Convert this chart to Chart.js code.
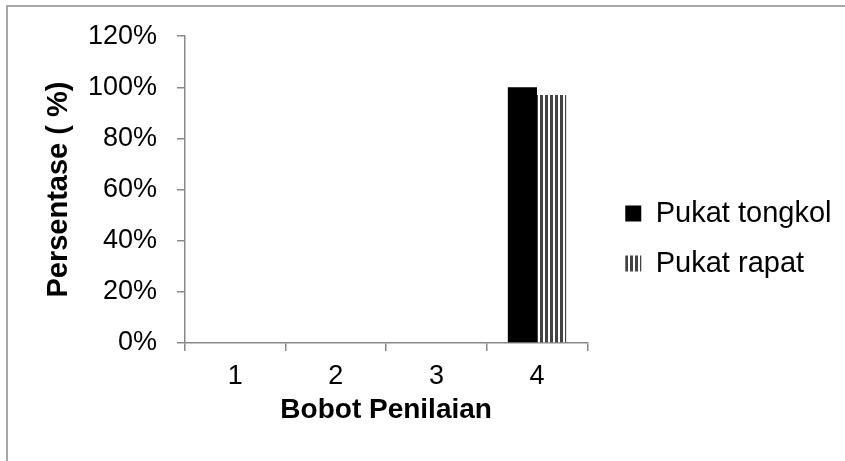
<!DOCTYPE html>
<html>
<head>
<meta charset="utf-8">
<script src="https://cdn.jsdelivr.net/npm/chart.js@4/dist/chart.umd.min.js"></script>
<style>
  html, body { margin: 0; padding: 0; background: #fff; }
  #wrap { width: 845px; height: 461px; position: relative; }
</style>
</head>
<body>
<div id="wrap"><canvas id="c" width="845" height="461"></canvas></div>
<script>
// Score weights on the x axis and the share of each net type per weight
const categories = ['1', '2', '3', '4'];
const pukatTongkol = [0, 0, 0, 100];
const pukatRapat = [0, 0, 0, 97];
const seriesNames = ['Pukat tongkol', 'Pukat rapat'];
const yTicks = [0, 20, 40, 60, 80, 100, 120];

const FONT = "'Liberation Sans', Arial, sans-serif";
const AXIS_GREY = '#888888';

// Vertical hatching fill for the second series
function stripePattern() {
  const tile = document.createElement('canvas');
  tile.width = 5; tile.height = 10;
  const t = tile.getContext('2d');
  t.fillStyle = '#ffffff';
  t.fillRect(0, 0, 5, 10);
  t.fillStyle = '#444444';
  t.fillRect(0, 0, 3, 10);
  return t.createPattern(tile, 'repeat');
}
const ctx = document.getElementById('c').getContext('2d');

// Grey frame on the left and top edges plus white background
const framePlugin = {
  id: 'frame',
  beforeDraw(chart) {
    const c = chart.ctx;
    c.save();
    c.fillStyle = '#ffffff';
    c.fillRect(0, 0, chart.width, chart.height);
    c.strokeStyle = '#8a8a8a';
    c.lineWidth = 1.5;
    c.beginPath();
    c.moveTo(7, chart.height);
    c.lineTo(7, 6);
    c.lineTo(chart.width, 6);
    c.stroke();
    c.restore();
  }
};

// Nudge the legend block a little further from the plot
const legendNudge = {
  id: 'legendNudge',
  afterLayout(chart) {
    const lg = chart.legend;
    if (!lg) return;
    lg.left += 17; lg.right += 17;
  }
};

new Chart(ctx, {
  type: 'bar',
  data: {
    labels: categories,
    datasets: [
      { label: seriesNames[0], data: pukatTongkol, backgroundColor: '#000000', borderWidth: 0 },
      { label: seriesNames[1], data: pukatRapat, backgroundColor: stripePattern(), borderWidth: 0 }
    ]
  },
  options: {
    responsive: false,
    animation: false,
    events: [],
    datasets: { bar: { categoryPercentage: 0.58, barPercentage: 1.0 } },
    layout: { padding: { left: 0, top: 36, right: 20.5, bottom: 20 } },
    plugins: {
      tooltip: { enabled: false },
      legend: {
        position: 'right',
        align: 'center',
        maxWidth: 300,
        labels: {
          color: '#000000',
          font: { family: FONT, size: 29 },
          boxWidth: 16,
          boxHeight: 16,
          padding: 21
        }
      }
    },
    scales: {
      x: {
        offset: true,
        grid: { display: true, offset: true, drawOnChartArea: false, drawTicks: true, tickLength: 8, color: AXIS_GREY, lineWidth: 1.5 },
        border: { display: true, color: AXIS_GREY, width: 1.5 },
        ticks: { color: '#000000', font: { family: FONT, size: 27 }, padding: 9, maxRotation: 0 },
        title: { display: true, text: 'Bobot Penilaian', color: '#000000', font: { family: FONT, size: 28, weight: 'bold' }, padding: { top: 4, bottom: 14 } },
        afterFit(s) { s.height = 98; }
      },
      y: {
        min: 0,
        max: 120,
        afterBuildTicks(s) { s.ticks = yTicks.map(v => ({ value: v })); },
        grid: { display: true, drawOnChartArea: false, drawTicks: true, tickLength: 8, color: AXIS_GREY, lineWidth: 1.5 },
        border: { display: true, color: AXIS_GREY, width: 1.5 },
        ticks: { color: '#000000', font: { family: FONT, size: 27 }, padding: 20, callback: v => v + '%' },
        title: { display: true, text: 'Persentase ( %)', color: '#000000', font: { family: FONT, size: 29, weight: 'bold' }, padding: { top: 42, bottom: 0 } },
        afterFit(s) { s.width = 185; }
      }
    }
  },
  plugins: [framePlugin, legendNudge]
});
</script>
</body>
</html>
